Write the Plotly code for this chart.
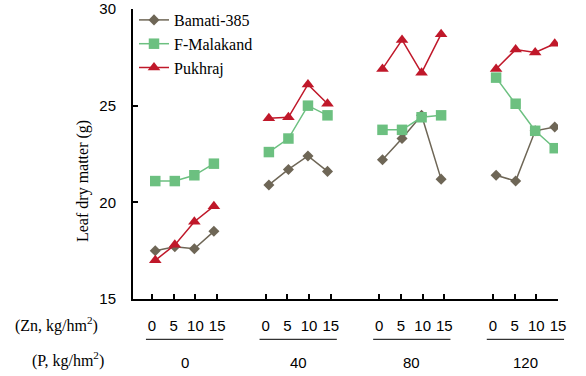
import plotly.graph_objects as go

# ---- data ----
zn_levels = ["0", "5", "10", "15"]          # Zn, kg/hm2 (within each P group)
p_levels = ["0", "40", "80", "120"]         # P, kg/hm2 (groups)
series_names = ["Bamati-385", "F-Malakand", "Pukhraj"]
bamati = [17.5, 17.7, 17.6, 18.5,
          20.9, 21.7, 22.4, 21.6,
          22.2, 23.3, 24.5, 21.2,
          21.4, 21.1, 23.7, 23.9]
malakand = [21.1, 21.1, 21.4, 22.0,
            22.6, 23.3, 25.0, 24.5,
            23.75, 23.75, 24.4, 24.5,
            26.45, 25.1, 23.7, 22.8]
pukhraj = [17.0, 17.8, 19.0, 19.8,
           24.35, 24.4, 26.1, 25.1,
           26.9, 28.4, 26.7, 28.7,
           26.9, 27.9, 27.75, 28.2]

colors = ["#6E6656", "#6CC080", "#C0182A"]
symbols = ["diamond", "square", "triangle-up"]
msizes = [8.5, 10.5, 11]

# ---- layout helpers (positions, in reference-picture pixels) ----
GROUP_STEP = 5.233
MARK_STEP = 0.9
XMIN, XMAX = -0.876, 18.7
W, H = 586, 376
ML, MR, MT, MB = 133, 28, 9, 77   # plot area in the reference picture
PW = W - ML - MR
PH = H - MT - MB

n_zn = len(zn_levels)
tick_vals, tick_text, group_centers = [], [], []
for g, _ in enumerate(p_levels):
    base = g * GROUP_STEP
    for j, z in enumerate(zn_levels):
        tick_vals.append(base + j)
        tick_text.append(z)
    group_centers.append(base + (n_zn - 1) / 2)


def build_xy(values):
    xs, ys = [], []
    for g in range(len(p_levels)):
        for j in range(n_zn):
            xs.append(group_centers[g] + (j - (n_zn - 1) / 2) * MARK_STEP)
            ys.append(values[g * n_zn + j])
        xs.append(None)
        ys.append(None)
    return xs, ys


fig = go.Figure()
for name, vals, c, s, ms in zip(series_names, [bamati, malakand, pukhraj], colors, symbols, msizes):
    xs, ys = build_xy(vals)
    fig.add_trace(go.Scatter(
        x=xs, y=ys, name=name, mode="lines+markers", connectgaps=False,
        line=dict(color=c, width=1.5),
        marker=dict(symbol=s, size=ms, color=c),
        legendgroup=name,
    ))


def px_to_paper_x(px):
    return (px - ML) / PW


def px_to_paper_y(py):
    return (H - MB - py) / PH


def data_to_paper_x(x):
    return (x - XMIN) / (XMAX - XMIN)


serif = "Liberation Serif"
sans = "Liberation Sans"

annotations = [
    dict(text="Leaf dry matter (g)", textangle=-90, xref="paper", yref="paper",
         x=px_to_paper_x(83), y=px_to_paper_y(181), showarrow=False,
         xanchor="center", yanchor="middle",
         font=dict(family=serif, size=16, color="black")),
    dict(text="(Zn, kg/hm<sup>2</sup>)", xref="paper", yref="paper",
         x=px_to_paper_x(56.5), y=px_to_paper_y(324), showarrow=False,
         xanchor="center", yanchor="middle",
         font=dict(family=serif, size=16, color="black")),
    dict(text="(P, kg/hm<sup>2</sup>)", xref="paper", yref="paper",
         x=px_to_paper_x(67.5), y=px_to_paper_y(359), showarrow=False,
         xanchor="center", yanchor="middle",
         font=dict(family=serif, size=16, color="black")),
]
shapes = []
for g, p in enumerate(p_levels):
    annotations.append(dict(text=p, xref="x", yref="paper", x=group_centers[g],
                            y=px_to_paper_y(362.5), showarrow=False,
                            xanchor="center", yanchor="middle",
                            font=dict(family=sans, size=15, color="black")))
    x0 = g * GROUP_STEP - 0.28
    x1 = g * GROUP_STEP + (n_zn - 1) + 0.28
    shapes.append(dict(type="line", xref="paper", yref="paper",
                       x0=data_to_paper_x(x0), x1=data_to_paper_x(x1),
                       y0=px_to_paper_y(339.3), y1=px_to_paper_y(339.3),
                       line=dict(color="black", width=1)))

fig.update_layout(
    width=W, height=H,
    margin=dict(l=ML, r=MR, t=MT, b=MB, autoexpand=False),
    paper_bgcolor="white", plot_bgcolor="white",
    showlegend=True,
    legend=dict(x=px_to_paper_x(134), y=px_to_paper_y(3), xanchor="left", yanchor="top",
                bgcolor="rgba(0,0,0,0)", font=dict(family=serif, size=16, color="black"),
                tracegroupgap=0),
    xaxis=dict(range=[XMIN, XMAX], showgrid=False, zeroline=False,
               showline=True, linecolor="black", linewidth=2,
               ticks="inside", ticklen=5, tickwidth=1.5, tickcolor="black",
               tickvals=tick_vals, ticktext=tick_text,
               tickfont=dict(family=sans, size=15, color="black"),
               ticklabelstandoff=12, automargin=False),
    yaxis=dict(range=[15, 30], showgrid=False, zeroline=False,
               showline=True, linecolor="black", linewidth=2,
               ticks="inside", ticklen=5, tickwidth=1.5, tickcolor="black",
               tickvals=[15, 20, 25, 30],
               tickfont=dict(family=sans, size=15, color="black"),
               ticklabelstandoff=12, automargin=False),
    annotations=annotations,
    shapes=shapes,
)

# remove the browser's default page margin so the figure sits at the window's corner
fig.write_html("out.html", config={"displayModeBar": False},
               post_script="document.body.style.margin='0px';")
